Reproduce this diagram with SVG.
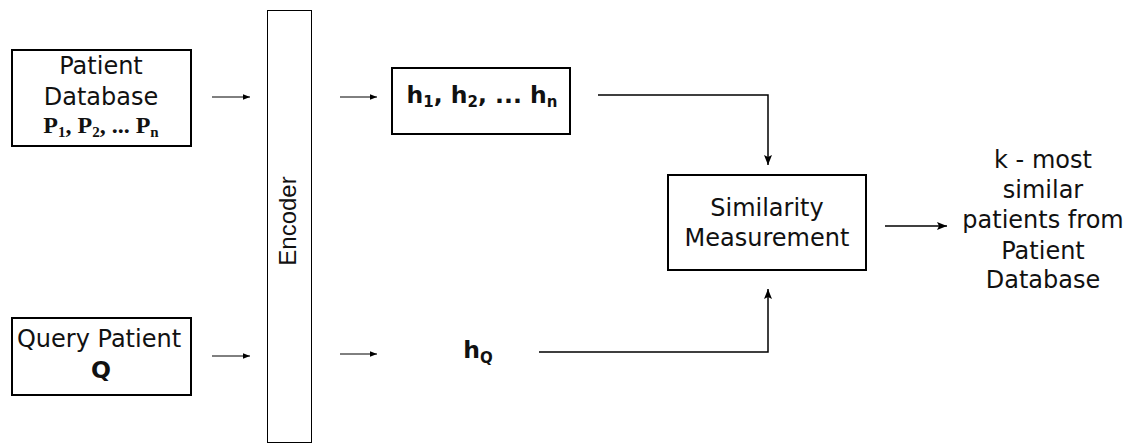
<svg xmlns="http://www.w3.org/2000/svg" width="1128" height="448" viewBox="0 0 1128 448">
<defs>
<marker id="ah" viewBox="0 0 10 10" refX="10" refY="5" markerWidth="7" markerHeight="7" markerUnits="userSpaceOnUse" orient="auto"><path d="M0,1 L10,5 L0,9 z" fill="#000"/></marker>
<marker id="ahb" viewBox="0 0 10 10" refX="10" refY="5" markerWidth="10" markerHeight="10" markerUnits="userSpaceOnUse" orient="auto"><path d="M0,1 L10,5 L0,9 L2,5 z" fill="#000"/></marker>
<style>
.box{fill:#fff;stroke:#000;stroke-width:2}
.t{font-family:"DejaVu Sans",Verdana,sans-serif;font-size:24px;fill:#111;text-anchor:middle}
.b{font-weight:bold;font-size:23.5px}
.s{font-family:"Liberation Serif","Times New Roman",serif;font-weight:bold;font-size:24px;fill:#111;text-anchor:middle}
.thin{stroke:#000;stroke-width:1;fill:none}
.con{stroke:#000;stroke-width:1.5;fill:none}
</style>
</defs>
<g id="patient-db">
<rect class="box" x="12" y="50" width="179" height="96"/>
<text class="t" x="101" y="74">Patient</text>
<text class="t" x="101" y="105">Database</text>
<text class="s" x="101" y="133">P<tspan font-size="15" dy="4">1</tspan><tspan dy="-4">, P</tspan><tspan font-size="15" dy="4">2</tspan><tspan dy="-4">, ... P</tspan><tspan font-size="15" dy="4">n</tspan></text>
</g>
<g id="query-patient">
<rect class="box" x="12" y="318" width="179" height="77"/>
<text class="t" x="99" y="347">Query Patient</text>
<text class="t b" x="101" y="378">Q</text>
</g>
<g id="encoder">
<rect x="267.5" y="10.5" width="44" height="432" fill="#fff" stroke="#000" stroke-width="1"/>
<text transform="translate(296,221) rotate(-90)" font-family="Liberation Sans, Arial, sans-serif" font-size="24" fill="#111" text-anchor="middle">Encoder</text>
</g>
<g id="h-box">
<rect class="box" x="392" y="68" width="178" height="66"/>
<text class="t b" x="482" y="103">h<tspan font-size="15" dy="4">1</tspan><tspan dy="-4">, h</tspan><tspan font-size="15" dy="4">2</tspan><tspan dy="-4">, ... h</tspan><tspan font-size="15" dy="4">n</tspan></text>
</g>
<g id="hq">
<text class="t b" x="478" y="358">h<tspan font-size="15" dy="5">Q</tspan></text>
</g>
<g id="similarity">
<rect class="box" x="668" y="175" width="198" height="95"/>
<text class="t" x="767" y="216">Similarity</text>
<text class="t" x="767" y="246">Measurement</text>
</g>
<g id="output">
<text class="t" x="1043" y="168">k - most</text>
<text class="t" x="1043" y="198">similar</text>
<text class="t" x="1043" y="228">patients from</text>
<text class="t" x="1043" y="259">Patient</text>
<text class="t" x="1043" y="288">Database</text>
</g>
<g id="connectors">
<line class="thin" x1="212" y1="97" x2="250" y2="97" marker-end="url(#ah)"/>
<line class="thin" x1="212" y1="356" x2="250" y2="356" marker-end="url(#ah)"/>
<line class="thin" x1="340" y1="97" x2="377" y2="97" marker-end="url(#ah)"/>
<line class="thin" x1="340" y1="354" x2="377" y2="354" marker-end="url(#ah)"/>
<polyline class="con" points="598,95 768,95 768,165" marker-end="url(#ahb)"/>
<polyline class="con" points="539,352 768,352 768,289" marker-end="url(#ahb)"/>
<line class="con" x1="885" y1="226" x2="947" y2="226" marker-end="url(#ahb)"/>
</g>
</svg>
